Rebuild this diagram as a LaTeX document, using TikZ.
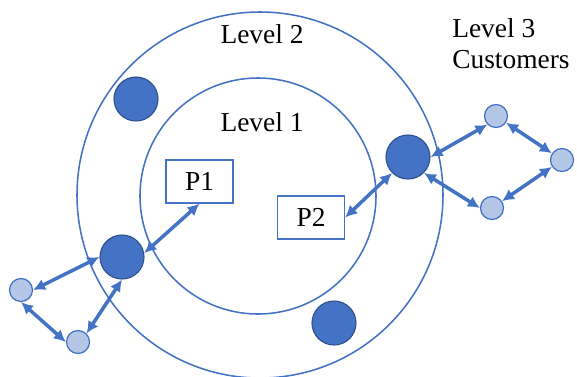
\documentclass[tikz,border=0pt]{standalone}
\usepackage{fontspec}
\setmainfont{Liberation Serif}
\usetikzlibrary{arrows.meta}
\definecolor{ringblue}{HTML}{4472C4}
\definecolor{deepblue}{HTML}{2F528F}
\definecolor{paleblue}{HTML}{B4C7E7}
\tikzset{
  firm/.style={circle, fill=ringblue, draw=deepblue, line width=0.8pt, minimum size=1.1cm, inner sep=0pt},
  cust/.style={circle, fill=paleblue, draw=ringblue, line width=0.9pt, minimum size=0.575cm, inner sep=0pt},
  pbox/.style={draw=ringblue, line width=0.9pt, minimum width=1.675cm, minimum height=1.075cm, inner sep=0pt},
  link/.style={{Latex[length=8.5pt,width=8.5pt]}-{Latex[length=8.5pt,width=8.5pt]}, draw=ringblue, line width=2.5pt},
  ring/.style={draw=ringblue, line width=1.1pt}
}
\begin{document}
\begin{tikzpicture}[x=1cm,y=1cm,font=\fontsize{19.5}{22}\selectfont]
\useasboundingbox (0,0) rectangle (14.425,-9.4);
\draw[ring] (6.5,-4.875) circle (4.575);
\draw[ring] (6.45,-4.9) circle (2.95);
\node (lv2) at (6.55,-0.85) {Level 2};
\node (lv1) at (6.55,-3.05) {Level 1};
\node[anchor=west, align=left, inner sep=0pt] (lv3) at (11.3,-1.1) {Level 3\\Customers};
\node[pbox] (p1) at (4.9875,-4.5375) {P1};
\node[pbox] (p2) at (7.775,-5.4375) {P2};
\node[firm] (f1) at (3.4,-2.475) {};
\node[firm] (f2) at (3.05,-6.425) {};
\node[firm] (f3) at (10.2,-3.925) {};
\node[firm] (f4) at (8.35,-8.075) {};
\node[cust] (a1) at (0.525,-7.25) {};
\node[cust] (a2) at (1.95,-8.55) {};
\node[cust] (b1) at (12.4,-2.9) {};
\node[cust] (b2) at (14.05,-4.0) {};
\node[cust] (b3) at (12.3,-5.2) {};
\draw[link] (f2.10) -- (p1.south);
\draw[link] (f2.west) -- (a1.east);
\draw[link] (f2.south) -- (a2.north east);
\draw[link] (a1.south) -- (a2.west);
\draw[link] (f3.south west) -- (p2.east);
\draw[link] (f3.east) -- (b1.south west);
\draw[link] (f3.south east) -- (b3.west);
\draw[link] (b1) -- (b2);
\draw[link] (b2) -- (b3);
\end{tikzpicture}
\end{document}
